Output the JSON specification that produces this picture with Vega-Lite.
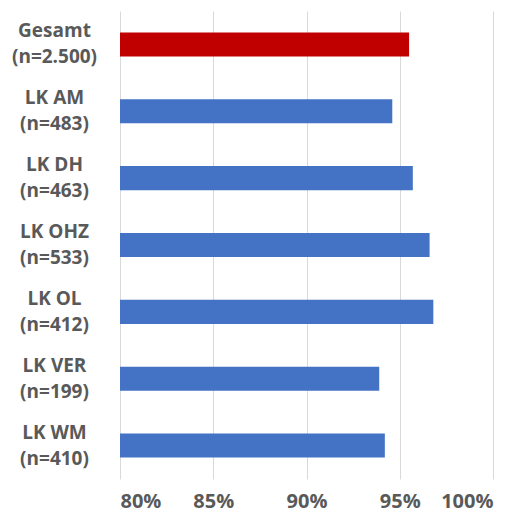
{
  "$schema": "https://vega.github.io/schema/vega-lite/v6.json",
  "autosize": "none",
  "padding": {"left": 120, "top": 11, "right": 28, "bottom": 39},
  "width": 373,
  "height": 468,
  "background": "white",
  "data": {
    "values": [
      {"label": "Gesamt|(n=2.500)", "value": 0.955, "group": "total"},
      {"label": "LK AM|(n=483)", "value": 0.946, "group": "lk"},
      {"label": "LK DH|(n=463)", "value": 0.957, "group": "lk"},
      {"label": "LK OHZ|(n=533)", "value": 0.966, "group": "lk"},
      {"label": "LK OL|(n=412)", "value": 0.968, "group": "lk"},
      {"label": "LK VER|(n=199)", "value": 0.939, "group": "lk"},
      {"label": "LK WM|(n=410)", "value": 0.942, "group": "lk"}
    ]
  },
  "mark": {"type": "bar", "clip": true},
  "encoding": {
    "y": {
      "field": "label",
      "type": "nominal",
      "sort": null,
      "scale": {"paddingInner": 0.64, "paddingOuter": 0.32},
      "axis": {
        "title": null,
        "domain": false,
        "ticks": false,
        "labelExpr": "split(datum.label, '|')",
        "labelFont": "Open Sans",
        "labelFontWeight": "bold",
        "labelFontSize": 19,
        "labelColor": "#595959",
        "labelLineHeight": 26,
        "labelPadding": 66,
        "labelOffset": -13,
        "labelAlign": "center",
        "labelBaseline": "middle"
      }
    },
    "x": {
      "field": "value",
      "type": "quantitative",
      "scale": {"domain": [0.8, 1.0], "nice": false, "zero": false},
      "axis": {
        "title": null,
        "format": ".0%",
        "values": [0.8, 0.85, 0.9, 0.95, 1.0],
        "domain": false,
        "ticks": false,
        "grid": true,
        "gridColor": "#d9d9d9",
        "gridWidth": 1,
        "labelFont": "Open Sans",
        "labelFontWeight": "bold",
        "labelFontSize": 20,
        "labelColor": "#595959",
        "labelPadding": 12
      }
    },
    "color": {
      "field": "group",
      "type": "nominal",
      "scale": {"domain": ["total", "lk"], "range": ["#c00000", "#4472c4"]},
      "legend": null
    }
  },
  "config": {"view": {"stroke": null}}
}
